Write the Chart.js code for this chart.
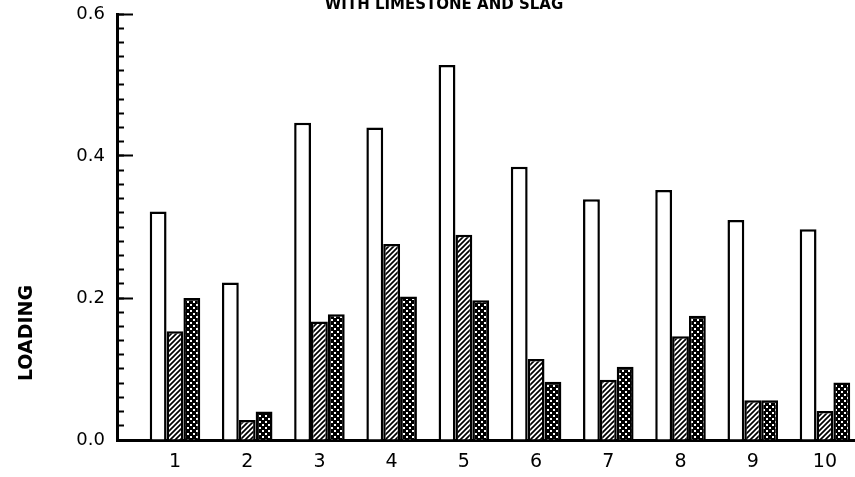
<!DOCTYPE html>
<html>
<head>
<meta charset="utf-8">
<script src="https://cdn.jsdelivr.net/npm/chart.js@4/dist/chart.umd.min.js"></script>
<style>
  html, body { margin: 0; padding: 0; background: #fff; }
  #wrap { width: 855px; height: 477px; }
</style>
</head>
<body>
<div id="wrap"><canvas id="c" width="855" height="477"></canvas></div>
<script>
// ---- data ----
const categories = [1, 2, 3, 4, 5, 6, 7, 8, 9, 10];
const seriesOpen = [0.322, 0.222, 0.447, 0.440, 0.528, 0.385, 0.339, 0.352, 0.310, 0.297];
const seriesHatched = [0.153, 0.028, 0.167, 0.276, 0.289, 0.114, 0.085, 0.146, 0.056, 0.041];
const seriesCross = [0.200, 0.040, 0.177, 0.202, 0.197, 0.082, 0.103, 0.175, 0.056, 0.081];
const yMajorTicks = [0.0, 0.2, 0.4, 0.6];
const titleText = 'WITH LIMESTONE AND SLAG';
const yTitleText = 'LOADING';

// ---- patterns ----
function hatchPattern() {
  const c = document.createElement('canvas');
  c.width = 5; c.height = 5;
  const g = c.getContext('2d');
  g.fillStyle = '#fff'; g.fillRect(0, 0, 5, 5);
  g.strokeStyle = '#000'; g.lineWidth = 1.7;
  g.beginPath();
  g.moveTo(-1, 6); g.lineTo(6, -1);
  g.moveTo(-1, 1); g.lineTo(1, -1);
  g.moveTo(4, 6); g.lineTo(6, 4);
  g.stroke();
  return g.createPattern(c, 'repeat');
}
function crossPattern() {
  const c = document.createElement('canvas');
  c.width = 6; c.height = 6;
  const g = c.getContext('2d');
  g.fillStyle = '#000'; g.fillRect(0, 0, 6, 6);
  g.fillStyle = '#fff';
  g.fillRect(1, 1, 2, 2);
  g.fillRect(4, 4, 2, 2);
  return g.createPattern(c, 'repeat');
}

const textPlugin = {
  id: 'textLabels',
  afterDraw(chart) {
    const ctx = chart.ctx;
    ctx.save();
    ctx.fillStyle = '#000';
    ctx.textAlign = 'center';
    ctx.textBaseline = 'middle';
    ctx.font = 'bold 15px "DejaVu Sans"';
    ctx.fillText(titleText, 444, 5);
    ctx.translate(27, 333);
    ctx.rotate(-Math.PI / 2);
    ctx.font = 'bold 19px "DejaVu Sans"';
    ctx.fillText(yTitleText, 0, 0);
    ctx.restore();
  }
};

const barCommon = { borderColor: '#000', borderWidth: 2.5, borderSkipped: 'start' };

new Chart(document.getElementById('c'), {
  type: 'bar',
  data: {
    labels: categories,
    datasets: [
      Object.assign({ label: 'A', data: seriesOpen, backgroundColor: '#fff' }, barCommon),
      Object.assign({ label: 'B', data: seriesHatched, backgroundColor: hatchPattern() }, barCommon),
      Object.assign({ label: 'C', data: seriesCross, backgroundColor: crossPattern() }, barCommon)
    ]
  },
  options: {
    responsive: false,
    animation: false,
    events: [],
    layout: { padding: { left: 0, right: 0, top: 14, bottom: 0 } },
    datasets: { bar: { categoryPercentage: 0.70, barPercentage: 1.0 } },
    plugins: {
      legend: { display: false },
      tooltip: { enabled: false },
      title: { display: false }
    },
    scales: {
      x: {
        type: 'linear',
        min: 0.197,
        max: 10.416,
        offset: false,
        grid: { display: true, drawOnChartArea: false, drawTicks: false, offset: false },
        border: { display: true, color: '#000', width: 3 },
        afterBuildTicks: s => { s.ticks = categories.map(v => ({ value: v })); },
        afterFit: s => { s.height = 37; s.paddingLeft = 0; s.paddingRight = 0; },
        ticks: {
          color: '#000',
          padding: 11,
          font: { family: '"DejaVu Sans"', size: 19 },
          callback: v => String(v)
        }
      },
      y: {
        type: 'linear',
        position: 'left',
        weight: 1,
        min: 0,
        max: 0.6,
        afterBuildTicks: s => { s.ticks = yMajorTicks.map(v => ({ value: v })); },
        afterFit: s => { s.width = 117; s.paddingTop = 0; s.paddingBottom = 0; },
        grid: { drawOnChartArea: false, drawTicks: true, tickLength: -16, tickWidth: 2, tickColor: '#000' },
        border: { display: true, color: '#000', width: 3 },
        ticks: {
          color: '#000',
          padding: 28,
          font: { family: '"DejaVu Sans"', size: 18 },
          callback: v => Number(v).toFixed(1)
        }
      },
      yMinor: {
        type: 'linear',
        position: 'left',
        weight: 0,
        min: 0,
        max: 0.6,
        afterBuildTicks: s => {
          const t = [];
          for (let i = 0; i <= 30; i++) t.push({ value: i / 50 });
          s.ticks = t;
        },
        afterFit: s => { s.width = 0; s.paddingTop = 0; s.paddingBottom = 0; },
        grid: { drawOnChartArea: false, drawTicks: true, tickLength: -7, tickWidth: 2, tickColor: '#000' },
        border: { display: false },
        ticks: { display: false }
      }
    }
  },
  plugins: [textPlugin]
});
</script>
</body>
</html>
